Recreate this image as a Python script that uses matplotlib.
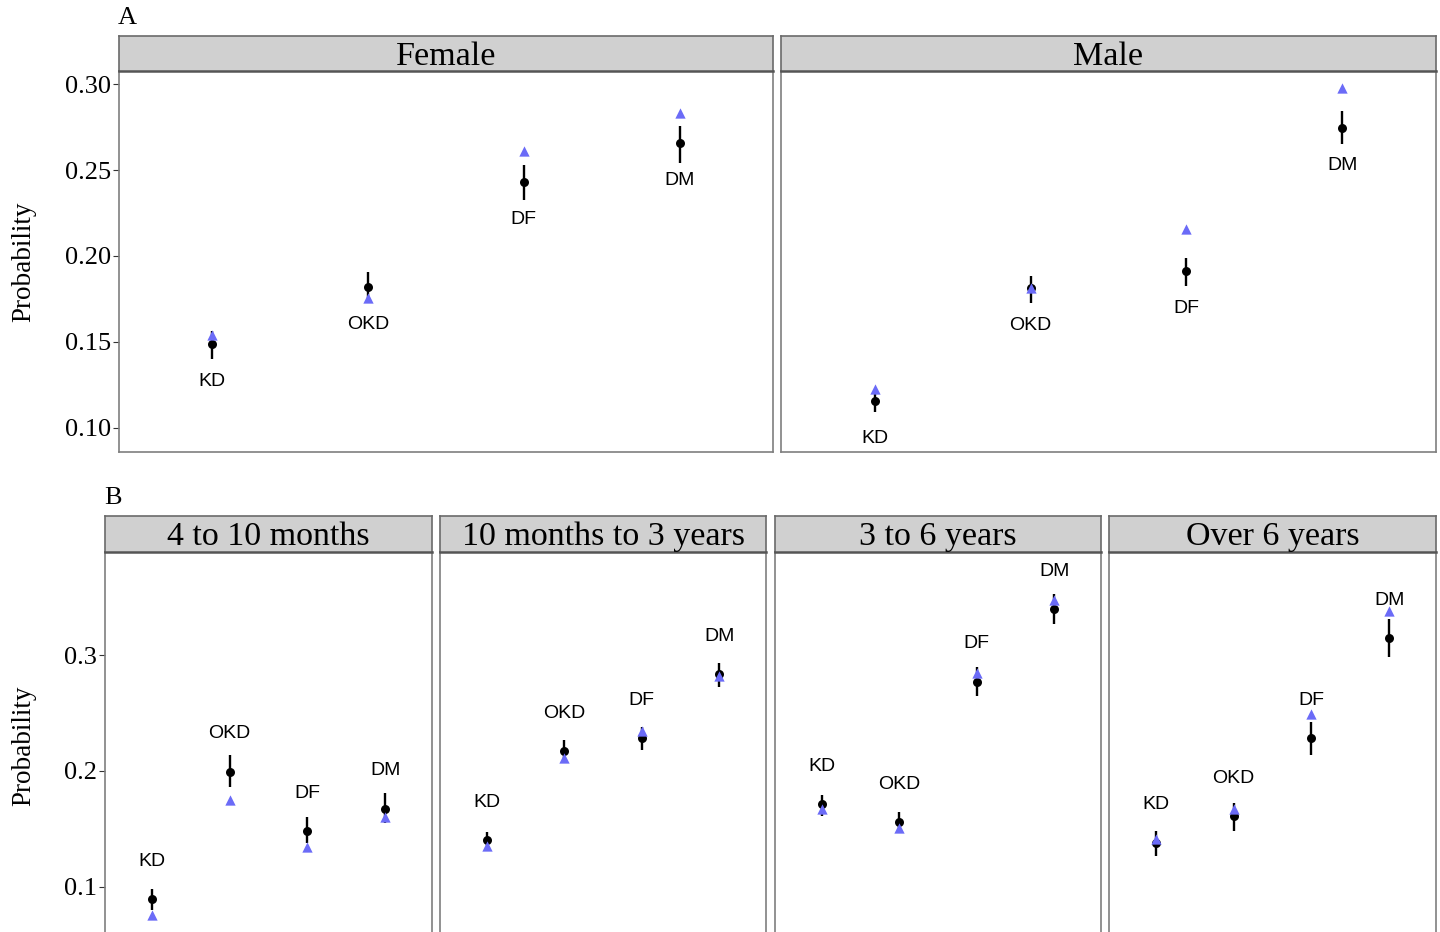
import matplotlib.pyplot as plt

W, H = 1440, 932

categories = ['KD', 'OKD', 'DF', 'DM']

# panel A: by sex
sex_panels = ['Female', 'Male']
sex_est = [[0.149, 0.182, 0.243, 0.2655],
           [0.1157, 0.1812, 0.1915, 0.2746]]
sex_lo = [[0.140, 0.1727, 0.2326, 0.2542],
          [0.1095, 0.1729, 0.1828, 0.2650]]
sex_hi = [[0.1564, 0.1907, 0.2529, 0.2758],
          [0.1198, 0.1884, 0.1990, 0.2845]]
sex_obs = [[0.154, 0.1756, 0.261, 0.2833],
           [0.1225, 0.1812, 0.2157, 0.2975]]

# panel B: by age
age_panels = ['4 to 10 months', '10 months to 3 years', '3 to 6 years', 'Over 6 years']
age_est = [[0.0894, 0.1994, 0.1483, 0.1675],
           [0.1405, 0.2172, 0.2287, 0.2833],
           [0.1713, 0.1558, 0.2770, 0.3394],
           [0.1382, 0.1612, 0.2282, 0.3144]]
age_lo = [[0.0802, 0.1865, 0.1377, 0.1554],
          [0.1333, 0.2066, 0.2181, 0.2722],
          [0.1612, 0.1472, 0.2649, 0.3265],
          [0.1267, 0.1483, 0.2138, 0.2986]]
age_hi = [[0.0985, 0.2135, 0.1606, 0.1808],
          [0.1477, 0.2267, 0.2377, 0.2934],
          [0.1793, 0.1644, 0.2894, 0.3523],
          [0.1483, 0.1722, 0.2420, 0.3308]]
age_obs = [[0.0759, 0.1750, 0.1347, 0.1606],
           [0.1353, 0.2109, 0.2348, 0.2820],
           [0.1670, 0.1506, 0.2842, 0.3474],
           [0.1414, 0.1670, 0.2489, 0.3379]]

serif = 'Liberation Serif'
sans = 'Liberation Sans'
tri_col = '#6B6BF7'


def box(x0, y0, x1, y1):
    # pixel box (top-left origin) -> figure fraction rect
    return [x0 / W, 1 - y1 / H, (x1 - x0) / W, (y1 - y0) / H]


def panel(fig, px, strip_top, strip_bot, bottom, title, est, lo, hi, obs,
          ylim, yticks, ylabels, nudge, show_y, cut_bottom=False):
    ax = fig.add_axes(box(px[0], strip_bot, px[1], bottom))
    x = list(range(1, len(categories) + 1))
    ax.vlines(x, lo, hi, color='black', lw=1.7, zorder=2)
    ax.scatter(x, est, s=42, color='black', zorder=3, linewidths=0)
    ax.scatter(x, obs, s=55, marker='^', color=tri_col, zorder=4, linewidths=0)
    for xi, yi, lab in zip(x, est, categories):
        ax.text(xi, yi + nudge, lab, ha='center', va='center',
                fontsize=14, family=sans)
    ax.set_xlim(0.4, 4.6)
    ax.set_ylim(*ylim)
    ax.set_xticks([])
    ax.set_yticks(yticks)
    if show_y:
        ax.set_yticklabels(ylabels, family=serif, fontsize=19)
        ax.tick_params(axis='y', length=4, width=0.8, color='#333333', pad=2)
        ax.set_ylabel('Probability', family=serif, fontsize=19.5, labelpad=20)
    else:
        ax.tick_params(axis='y', length=0, labelleft=False)
    for s in ax.spines.values():
        s.set_color('#7F7F7F')
        s.set_linewidth(1.2)
    if cut_bottom:
        ax.spines['bottom'].set_visible(False)

    st = fig.add_axes(box(px[0], strip_top, px[1], strip_bot))
    st.set_facecolor('#D0D0D0')
    st.set_xticks([])
    st.set_yticks([])
    for s in st.spines.values():
        s.set_color('#6A6A6A')
        s.set_linewidth(1.2)
    st.spines['bottom'].set_linewidth(1.8)
    st.spines['bottom'].set_color('#555555')
    st.text(0.5, 0.42, title, ha='center', va='center', transform=st.transAxes,
            family=serif, fontsize=24.5)
    return ax


fig = plt.figure(figsize=(W / 100, H / 100), dpi=100)

# A
top_x = [(119, 773), (781, 1436)]
for i in range(2):
    panel(fig, top_x[i], 36, 71, 452, sex_panels[i], sex_est[i], sex_lo[i],
          sex_hi[i], sex_obs[i], (0.0860, 0.3076),
          [0.10, 0.15, 0.20, 0.25, 0.30],
          ['0.10', '0.15', '0.20', '0.25', '0.30'], -0.0218, i == 0)
fig.text(118 / W, 1 - 18 / H, 'A', family=serif, fontsize=19, va='center')

# B
bot_x = [(105, 432), (440, 766), (775, 1101), (1109, 1436)]
for i in range(4):
    panel(fig, bot_x[i], 516, 552, 940, age_panels[i], age_est[i], age_lo[i],
          age_hi[i], age_obs[i], (0.0543, 0.3888),
          [0.1, 0.2, 0.3], ['0.1', '0.2', '0.3'], 0.0325, i == 0,
          cut_bottom=True)
fig.text(104 / W, 1 - 498 / H, 'B', family=serif, fontsize=19, va='center')

fig.savefig('out.png', dpi=100)
